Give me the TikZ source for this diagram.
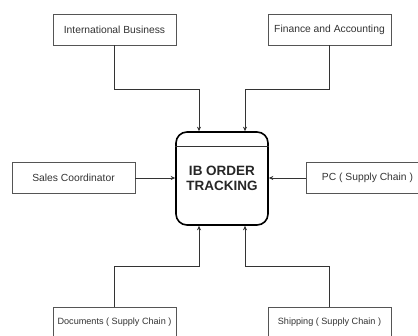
\documentclass[tikz,border=0pt]{standalone}
\usepackage{fontspec}
\setmainfont{Liberation Sans}
\usetikzlibrary{arrows.meta}
\definecolor{ln}{HTML}{333333}
\definecolor{bx}{HTML}{555555}
\tikzset{
  ext/.style={draw=bx, line width=0.8pt, fill=white, minimum width=123pt, minimum height=31pt, inner sep=0pt, font=\fontsize{10.3}{12}\selectfont, text=ln},
  small/.style={font=\fontsize{9.1}{11}\selectfont},
  core/.style={draw=black, line width=1.6pt, rounded corners=11pt, minimum width=92pt, minimum height=93pt, inner sep=0pt, align=center, font=\fontsize{13.5}{15.5}\selectfont\bfseries, text=black!85},
  conn/.style={draw=ln, line width=0.8pt, -{Stealth[length=4.5pt,width=4pt]}}
}
\begin{document}
\begin{tikzpicture}[x=1pt,y=-1pt]
\useasboundingbox (0,0) rectangle (418,336);
\clip (0,0) rectangle (418,336);
\node[ext] (ib) at (114.5,29.5) {International Business};
\node[ext] (fa) at (329.5,29.5) {Finance and Accounting};
\node[ext] (sc) at (73.5,178) {Sales Coordinator};
\node[ext] (pc) at (367.5,178) {PC ( Supply Chain )};
\node[ext,small] (dc) at (114.5,322.5) {Documents ( Supply Chain )};
\node[ext,small] (sh) at (329.5,322.5) {Shipping ( Supply Chain )};
\node[core] (c) at (222,178.5) {IB ORDER\\TRACKING};
\draw[line width=0.8pt, draw=ln] (c.west |- 0,146) -- (c.east |- 0,146);
\coordinate (t1) at ([xshift=-23pt]c.north);
\coordinate (t2) at ([xshift=23pt]c.north);
\coordinate (b1) at ([xshift=-23pt]c.south);
\coordinate (b2) at ([xshift=23pt]c.south);
\draw[conn] (ib.south) |- (199,89) -- (t1);
\draw[conn] (fa.south) |- (245,89) -- (t2);
\draw[conn] (dc.north) |- (199,266) -- (b1);
\draw[conn] (sh.north) |- (245,266) -- (b2);
\draw[conn] (sc.east) -- (c.west |- sc.east);
\draw[conn] (pc.west) -- (c.east |- pc.west);
\end{tikzpicture}
\end{document}
